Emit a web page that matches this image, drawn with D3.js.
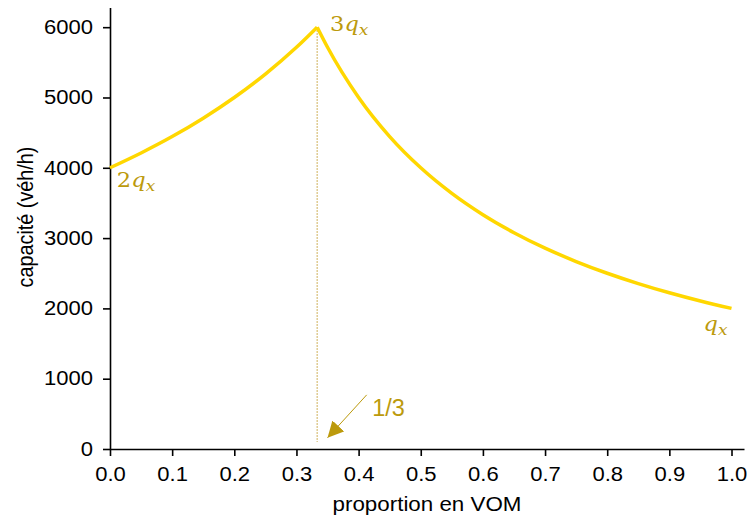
<!DOCTYPE html>
<html>
<head>
<meta charset="utf-8">
<script src="https://cdn.jsdelivr.net/npm/d3@7"></script>
<style>
  body { margin: 0; background: #fff; }
  svg { display: block; }
  text { font-family: "Liberation Sans", Arial, sans-serif; }
</style>
</head>
<body>
<svg id="chart" width="748" height="517"></svg>
<script>
// values
var pRise = [0, 0.05, 0.1, 0.15, 0.2, 0.25, 0.3, 1/3];
var capRise = [4000, 4211, 4444, 4706, 5000, 5333, 5714, 6000];
var pFall = [1/3, 0.35, 0.4, 0.45, 0.5, 0.55, 0.6, 0.65, 0.7, 0.75, 0.8, 0.85, 0.9, 0.95, 1.0];
var capFall = [6000, 5714, 5000, 4444, 4000, 3636, 3333, 3077, 2857, 2667, 2500, 2353, 2222, 2105, 2000];
var xTicks = [0, 0.1, 0.2, 0.3, 0.4, 0.5, 0.6, 0.7, 0.8, 0.9, 1.0];
var yTicks = [0, 1000, 2000, 3000, 4000, 5000, 6000];

var lineColor = "#FFD700";
var noteColor = "#BC9A0C";
var stretch = 1.13; // the reference text is a bit wide

var svg = d3.select("#chart");

var x = d3.scaleLinear().domain([0, 1.0201]).range([110, 744]);
var y = d3.scaleLinear().domain([0, 6280]).range([449, 7.5]);

// widen a text node around its own anchor
function widen(sel) {
  sel.each(function() {
    var t = d3.select(this);
    var tx = +t.attr("x") || 0;
    t.attr("x", 0).attr("transform", "translate(" + tx + ",0) scale(" + stretch + ",1)");
  });
}

// x axis
var xAxis = svg.append("g")
  .attr("transform", "translate(0," + y(0) + ")")
  .call(d3.axisBottom(x).tickValues(xTicks).tickFormat(d3.format(".1f")).tickSize(7).tickSizeOuter(0).tickPadding(11));
// y axis
var yAxis = svg.append("g")
  .attr("transform", "translate(" + x(0) + ",0)")
  .call(d3.axisLeft(y).tickValues(yTicks).tickFormat(d3.format("d")).tickSize(7).tickSizeOuter(0).tickPadding(10));

[xAxis, yAxis].forEach(function(g) {
  g.selectAll("path, line").attr("stroke", "#000").attr("stroke-width", 1.6);
  g.selectAll("text")
    .style("font-family", "'Liberation Sans', Arial, sans-serif")
    .style("font-size", "19.5px")
    .attr("fill", "#000")
    .call(widen);
});

svg.append("text")
  .attr("x", d3.mean(x.range()))
  .attr("y", 511)
  .attr("text-anchor", "middle")
  .style("font-size", "19.8px")
  .text("proportion en VOM")
  .call(widen);

svg.append("text")
  .attr("transform", "translate(33," + y(3300) + ") scale(" + stretch + ",1) rotate(-90)")
  .attr("text-anchor", "middle")
  .style("font-size", "19.8px")
  .text("capacité (véh/h)");

// dotted line at 1/3
svg.append("line")
  .attr("x1", x(1/3)).attr("x2", x(1/3))
  .attr("y1", y(6000)).attr("y2", y(0) - 7)
  .attr("stroke", "#C9A94A")
  .attr("stroke-width", 1.2)
  .attr("stroke-dasharray", "1.5,1.5");

// curve
var line = d3.line()
  .x(function(d) { return x(d[0]); })
  .y(function(d) { return y(d[1]); })
  .curve(d3.curveMonotoneX);

[[pRise, capRise], [pFall, capFall]].forEach(function(s) {
  svg.append("path")
    .datum(d3.zip(s[0], s[1]))
    .attr("fill", "none")
    .attr("stroke", lineColor)
    .attr("stroke-width", 3.5)
    .attr("stroke-linejoin", "round")
    .attr("d", line);
});

// arrow for 1/3
svg.append("defs").append("marker")
  .attr("id", "head")
  .attr("viewBox", "0 0 10 10")
  .attr("refX", 10).attr("refY", 5)
  .attr("markerWidth", 16).attr("markerHeight", 16)
  .attr("markerUnits", "userSpaceOnUse")
  .attr("orient", "auto")
  .append("path")
  .attr("d", "M0,0 L10,5 L0,10 Z")
  .attr("fill", noteColor);

svg.append("line")
  .attr("x1", x(0.413)).attr("y1", y(770))
  .attr("x2", x(0.35)).attr("y2", y(160))
  .attr("stroke", noteColor)
  .attr("stroke-width", 1)
  .attr("marker-end", "url(#head)");

svg.append("text")
  .attr("x", x(0.422)).attr("y", y(470))
  .attr("fill", noteColor)
  .style("font-size", "23.5px")
  .text("1/3");

// q labels
function qLabel(px, py, coef) {
  var t = svg.append("text")
    .attr("x", px).attr("y", py)
    .attr("fill", noteColor)
    .style("font-family", "'DejaVu Serif', 'Liberation Serif', serif")
    .style("font-size", "20px");
  if (coef) t.append("tspan").text(coef);
  t.append("tspan").style("font-style", "italic").text("q");
  t.append("tspan").style("font-style", "italic").style("font-size", "15px").attr("dy", 4).text("x");
  t.call(widen);
}
qLabel(x(0.011), y(3720), "2");
qLabel(x(0.354), y(5940), "3");
qLabel(x(0.955), y(1680), "");
</script>
</body>
</html>
